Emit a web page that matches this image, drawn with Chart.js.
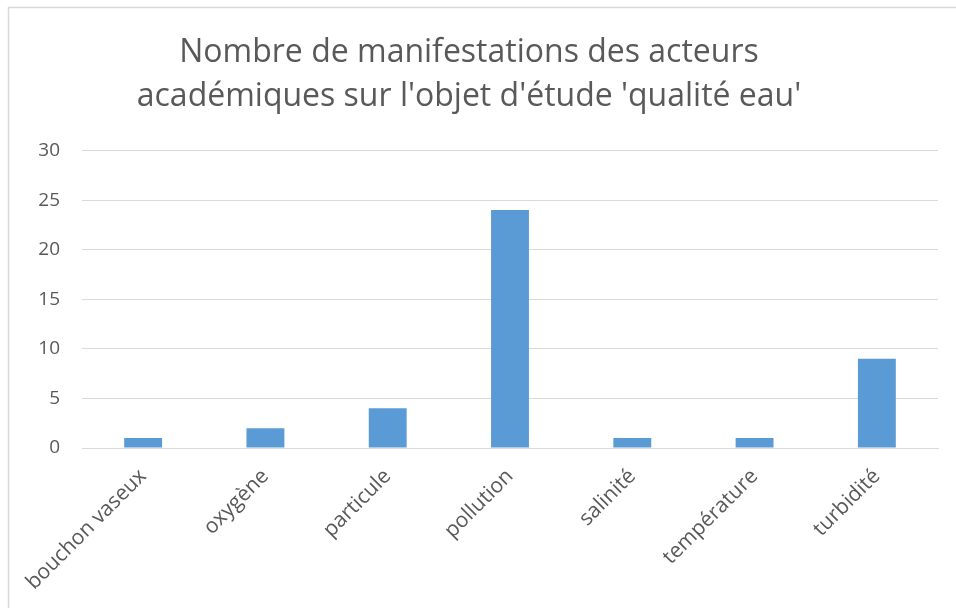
<!DOCTYPE html>
<html>
<head>
<meta charset="utf-8">
<script src="https://cdn.jsdelivr.net/npm/chart.js@4"></script>
<style>
html,body{margin:0;padding:0;background:#fff;}
#wrap{position:relative;width:956px;height:608px;}
</style>
</head>
<body>
<div id="wrap"><canvas id="c" width="956" height="608"></canvas></div>
<script>
const categories = ['bouchon vaseux','oxygène','particule','pollution','salinité','température','turbidité'];
const values = [1, 2, 4, 24, 1, 1, 9];
const titleLines = ["Nombre de manifestations des acteurs", "académiques sur l'objet d'étude 'qualité eau'"];
const yMin = 0, yMax = 30, yStep = 5;

const frame = {
  id: 'frame',
  beforeDraw(chart) {
    const ctx = chart.ctx;
    ctx.save();
    ctx.fillStyle = '#ffffff';
    ctx.fillRect(0, 0, chart.width, chart.height);
    ctx.strokeStyle = '#d9d9d9';
    ctx.lineWidth = 1.5;
    ctx.beginPath();
    ctx.moveTo(8.5, chart.height);
    ctx.lineTo(8.5, 7.5);
    ctx.lineTo(chart.width, 7.5);
    ctx.stroke();
    ctx.restore();
  }
};

new Chart(document.getElementById('c'), {
  type: 'bar',
  data: {
    labels: categories,
    datasets: [{
      data: values,
      backgroundColor: '#5B9BD5',
      borderWidth: 0,
      categoryPercentage: 1,
      barPercentage: 0.31
    }]
  },
  options: {
    responsive: false,
    animation: false,
    layout: { padding: { left: 0, right: 18, top: 0, bottom: 0 } },
    plugins: {
      legend: { display: false },
      tooltip: { enabled: false },
      title: {
        display: true,
        text: titleLines,
        color: '#595959',
        font: { family: 'Open Sans', size: 32, weight: 'normal', lineHeight: 1.4 },
        padding: { top: 30, bottom: 31 }
      }
    },
    scales: {
      x: {
        grid: { display: false, drawTicks: false },
        border: { display: true, color: '#d9d9d9', width: 1 },
        ticks: {
          color: '#595959',
          font: { family: 'Open Sans', size: 21 },
          maxRotation: 45, minRotation: 45,
          padding: 16
        },
        afterFit(scale) { scale.height = 160; }
      },
      y: {
        min: yMin, max: yMax,
        ticks: {
          stepSize: yStep,
          color: '#595959',
          font: { family: 'Open Sans', size: 19 },
          padding: 22
        },
        grid: { color: '#d9d9d9', drawTicks: false },
        border: { display: false },
        afterFit(scale) { scale.width = 82; }
      }
    }
  },
  plugins: [frame]
});
</script>
</body>
</html>
